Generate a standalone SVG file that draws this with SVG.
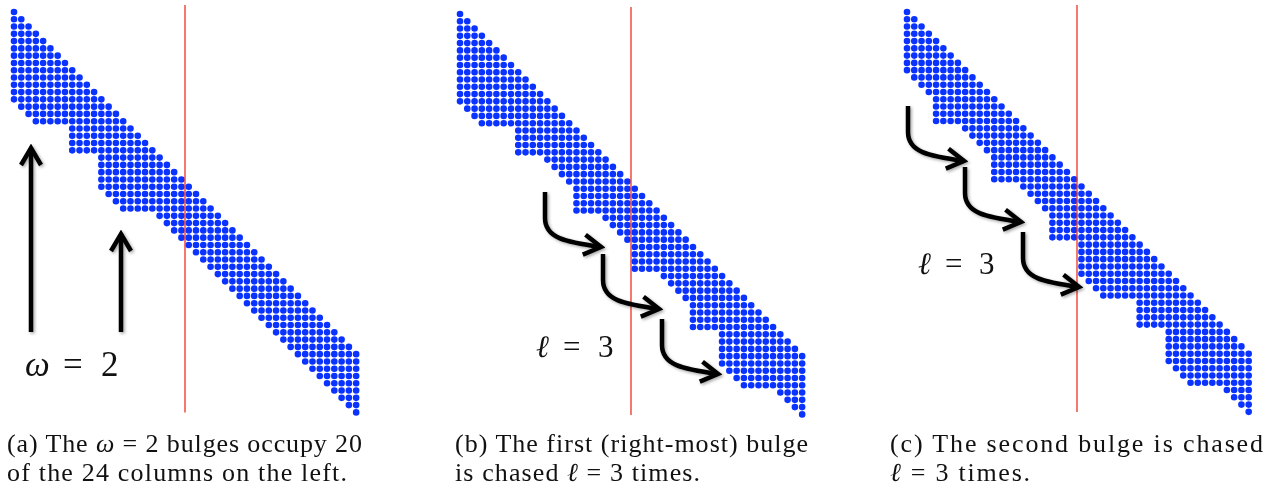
<svg xmlns="http://www.w3.org/2000/svg" width="1265" height="491" viewBox="0 0 1265 491">
<style>
.cap{font-family:"Liberation Serif","DejaVu Serif",serif;font-size:26px;fill:#111}
.big{font-family:"Liberation Serif","DejaVu Serif",serif;fill:#111}
.red{stroke:#f03020;stroke-width:1.3;fill:none}
.arr{fill:none;stroke:#000;stroke-width:4.5;stroke-linecap:butt}
.dots{fill:none;stroke:#0b33ff;stroke-width:0.91;stroke-linecap:round;stroke-dasharray:0 1}
.m{font-style:italic}
</style>
<defs>
<marker id="head" markerUnits="userSpaceOnUse" viewBox="-22 -14 26 28" refX="0" refY="0" markerWidth="26" markerHeight="28" orient="auto">
<path d="M-17,-10 L0,0 L-17,10" fill="none" stroke="#000" stroke-width="4.5" stroke-linejoin="miter"/>
</marker>
<filter id="sh" x="-20%" y="-20%" width="140%" height="140%">
<feDropShadow dx="1.5" dy="1.5" stdDeviation="1.4" flood-color="#000" flood-opacity="0.35"/>
</filter>
</defs>
<rect width="1265" height="491" fill="#fff"/>

<g id="panel-a">
<g transform="translate(14,12) scale(7.28)">
<path class="dots" d="M0 0H.5M0 1H1.5M0 2H2.5M0 3H3.5M0 4H4.5M0 5H5.5M0 6H6.5M0 7H7.5M0 8H8.5M0 9H9.5M0 10H10.5M0 11H11.5M0 12H12.5M1 13H13.5M2 14H14.5M3 15H15.5M8 16H16.5M8 17H17.5M8 18H18.5M8 19H19.5M12 20H20.5M12 21H21.5M12 22H22.5M12 23H23.5M12 24H24.5M13 25H25.5M14 26H26.5M15 27H27.5M20 28H28.5M21 29H29.5M22 30H30.5M23 31H31.5M24 32H32.5M25 33H33.5M26 34H34.5M27 35H35.5M28 36H36.5M29 37H37.5M30 38H38.5M31 39H39.5M32 40H40.5M33 41H41.5M34 42H42.5M35 43H43.5M36 44H44.5M37 45H45.5M38 46H46.5M39 47H47.5M40 48H47.5M41 49H47.5M42 50H47.5M43 51H47.5M44 52H47.5M45 53H47.5M46 54H47.5M47 55H47.5"/>
</g>
<line class="red" x1="185" y1="5" x2="185" y2="412.5"/>
</g>

<g id="panel-b">
<g transform="translate(460,14) scale(7.28)">
<path class="dots" d="M0 0H.5M0 1H1.5M0 2H2.5M0 3H3.5M0 4H4.5M0 5H5.5M0 6H6.5M0 7H7.5M0 8H8.5M0 9H9.5M0 10H10.5M0 11H11.5M0 12H12.5M1 13H13.5M2 14H14.5M3 15H15.5M8 16H16.5M8 17H17.5M8 18H18.5M8 19H19.5M12 20H20.5M13 21H21.5M14 22H22.5M15 23H23.5M16 24H24.5M16 25H25.5M16 26H26.5M16 27H27.5M20 28H28.5M21 29H29.5M22 30H30.5M23 31H31.5M24 32H32.5M24 33H33.5M24 34H34.5M24 35H35.5M28 36H36.5M29 37H37.5M30 38H38.5M31 39H39.5M32 40H40.5M32 41H41.5M32 42H42.5M32 43H43.5M36 44H44.5M36 45H45.5M36 46H46.5M36 47H47.5M36 48H47.5M37 49H47.5M38 50H47.5M39 51H47.5M44 52H47.5M45 53H47.5M46 54H47.5M47 55H47.5"/>
</g>
<line class="red" x1="631" y1="7" x2="631" y2="415"/>
</g>

<g id="panel-c">
<g transform="translate(907,12) scale(7.27)">
<path class="dots" d="M0 0H.5M0 1H1.5M0 2H2.5M0 3H3.5M0 4H4.5M0 5H5.5M0 6H6.5M0 7H7.5M0 8H8.5M1 9H9.5M2 10H10.5M3 11H11.5M4 12H12.5M4 13H13.5M4 14H14.5M4 15H15.5M8 16H16.5M9 17H17.5M10 18H18.5M11 19H19.5M12 20H20.5M12 21H21.5M12 22H22.5M12 23H23.5M16 24H24.5M17 25H25.5M18 26H26.5M19 27H27.5M20 28H28.5M20 29H29.5M20 30H30.5M20 31H31.5M24 32H32.5M24 33H33.5M24 34H34.5M24 35H35.5M24 36H36.5M25 37H37.5M26 38H38.5M27 39H39.5M32 40H40.5M32 41H41.5M32 42H42.5M32 43H43.5M36 44H44.5M36 45H45.5M36 46H46.5M36 47H47.5M36 48H47.5M37 49H47.5M38 50H47.5M39 51H47.5M44 52H47.5M45 53H47.5M46 54H47.5M47 55H47.5"/>
</g>
<line class="red" x1="1077" y1="5" x2="1077" y2="412"/>
</g>

<g id="arrows" filter="url(#sh)">
<path class="arr" d="M31,332 V148" marker-end="url(#head)"/>
<path class="arr" d="M121,332 V234" marker-end="url(#head)"/>
<path class="arr" transform="translate(545,192)" d="M0,0 V26 C0,46 20,50 56,55" marker-end="url(#head)"/>
<path class="arr" transform="translate(603,254)" d="M0,0 V26 C0,46 20,50 56,55" marker-end="url(#head)"/>
<path class="arr" transform="translate(662,319)" d="M0,0 V26 C0,46 20,50 56,55" marker-end="url(#head)"/>
<path class="arr" transform="translate(908,106)" d="M0,0 V26 C0,46 20,50 56,55" marker-end="url(#head)"/>
<path class="arr" transform="translate(965,167)" d="M0,0 V26 C0,46 20,50 56,55" marker-end="url(#head)"/>
<path class="arr" transform="translate(1023,232)" d="M0,0 V26 C0,46 20,50 56,55" marker-end="url(#head)"/>
</g>

<g id="label-omega">
<text class="big" font-size="35"><tspan x="25" y="376" class="m">ω</tspan><tspan x="63" y="376">=</tspan><tspan x="101" y="376">2</tspan></text>
</g>
<g id="label-l-b">
<text class="big" font-size="31"><tspan x="536" y="357" class="m">ℓ</tspan><tspan x="563" y="357">=</tspan><tspan x="598" y="357">3</tspan></text>
</g>
<g id="label-l-c">
<text class="big" font-size="31"><tspan x="918" y="274" class="m">ℓ</tspan><tspan x="945" y="274">=</tspan><tspan x="979" y="274">3</tspan></text>
</g>

<g id="captions">
<text class="cap" x="7" y="452" textLength="355" lengthAdjust="spacing">(a) The <tspan class="m">ω</tspan> = 2 bulges occupy 20</text>
<text class="cap" x="7" y="481" textLength="340" lengthAdjust="spacing">of the 24 columns on the left.</text>
<text class="cap" x="455" y="452" textLength="353" lengthAdjust="spacing">(b) The first (right-most) bulge</text>
<text class="cap" x="455" y="481" textLength="245" lengthAdjust="spacing">is chased <tspan class="m">ℓ</tspan> = 3 times.</text>
<text class="cap" x="890" y="452" textLength="373" lengthAdjust="spacing">(c) The second bulge is chased</text>
<text class="cap" x="890" y="481" textLength="140" lengthAdjust="spacing"><tspan class="m">ℓ</tspan> = 3 times.</text>
</g>
</svg>
